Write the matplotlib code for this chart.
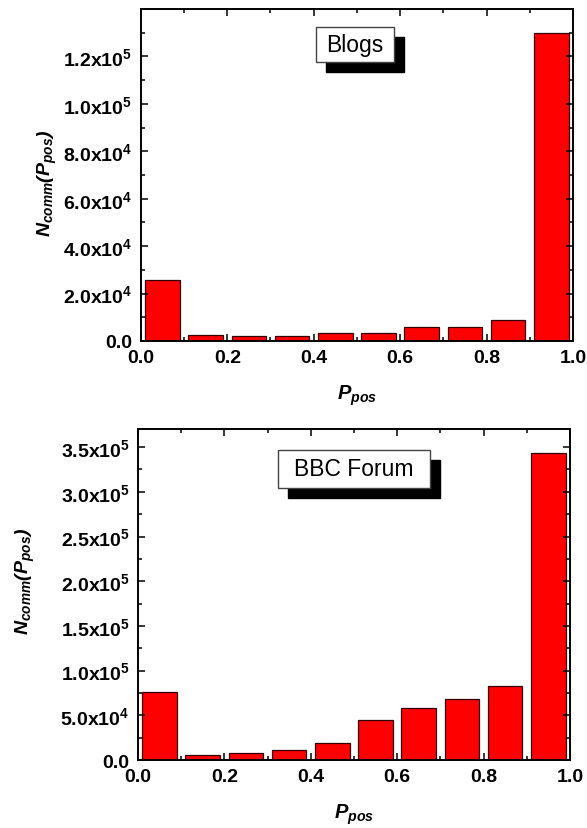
import numpy as np
import matplotlib
matplotlib.use('Agg')
import matplotlib.pyplot as plt
from matplotlib.patches import Rectangle
from matplotlib.ticker import MultipleLocator, FuncFormatter

plt.rcParams['font.family'] = ['Liberation Sans', 'DejaVu Sans']
plt.rcParams['font.weight'] = 'bold'
plt.rcParams['mathtext.fontset'] = 'custom'
plt.rcParams['mathtext.rm'] = 'Liberation Sans'
plt.rcParams['mathtext.bf'] = 'Liberation Sans:bold'
plt.rcParams['mathtext.it'] = 'Liberation Sans:italic'
plt.rcParams['mathtext.bfit'] = 'Liberation Sans:bold:italic'

# bin centres of P_pos
p_pos = [0.05, 0.15, 0.25, 0.35, 0.45, 0.55, 0.65, 0.75, 0.85, 0.95]

# number of comments per bin
n_blogs = [25600, 2500, 2000, 2000, 3500, 3400, 5900, 5900, 9000, 129800]
n_bbc = [76300, 5200, 7400, 10800, 19300, 44300, 57700, 67800, 83000, 343000]

panels = [
    ('Blogs', n_blogs, 1.4e5, 2e4, 1e4),
    ('BBC Forum', n_bbc, 3.7e5, 5e4, 2.5e4),
]


def sci_fmt(v, pos):
    if v <= 0:
        return '0.0'
    e = int(np.floor(np.log10(v) + 1e-9))
    m = v / 10**e
    return r'$\mathbf{%.1fx10^{%d}}$' % (m, e)


fig = plt.figure(figsize=(5.87, 8.29), dpi=100)
ax_pos = [[0.240, 0.5875, 0.736, 0.4005], [0.235, 0.082, 0.736, 0.399]]
box_pos = [[0.405, 0.840, 0.181, 0.106], [0.324, 0.822, 0.353, 0.115]]
text_pos = [(0.495, 0.893), (0.50, 0.88)]
ylab_xy = [(-0.19, 0.479), (-0.233, 0.544)]

for i, (name, vals, ymax, major, minor) in enumerate(panels):
    ax = fig.add_axes(ax_pos[i])
    ax.bar(p_pos, vals, width=0.08, color='#ff0000', edgecolor='#300000', linewidth=0.9)
    ax.set_xlim(0, 1.0)
    ax.set_ylim(0, ymax)
    ax.xaxis.set_major_locator(MultipleLocator(0.2))
    ax.xaxis.set_minor_locator(MultipleLocator(0.1))
    ax.set_yticks(np.arange(0, ymax, major))
    ax.yaxis.set_minor_locator(MultipleLocator(minor))
    ax.xaxis.set_major_formatter(FuncFormatter(lambda v, p: '%.1f' % v))
    ax.yaxis.set_major_formatter(FuncFormatter(sci_fmt))
    ax.tick_params(which='both', direction='in', top=True, right=True, width=1.1)
    ax.tick_params(which='major', length=5, labelsize=14, pad=6)
    ax.tick_params(which='minor', length=3)
    for s in ax.spines.values():
        s.set_linewidth(1.4)
    ax.set_xlabel(r'$\mathbfit{P_{pos}}$', fontsize=14.5)
    ax.xaxis.set_label_coords(0.5, -0.125)
    ax.set_ylabel(r'$\mathbfit{N_{comm}(P_{pos})}$', fontsize=14)
    ax.yaxis.set_label_coords(*ylab_xy[i])

    bx, by, bw, bh = box_pos[i]
    ax.add_patch(Rectangle((bx + 0.023, by - 0.030), bw, bh, transform=ax.transAxes,
                           facecolor='black', edgecolor='black', zorder=5))
    ax.add_patch(Rectangle((bx, by), bw, bh, transform=ax.transAxes,
                           facecolor='white', edgecolor='#444444', linewidth=1.0, zorder=6))
    ax.text(text_pos[i][0], text_pos[i][1], name, transform=ax.transAxes,
            ha='center', va='center', fontsize=16.5, fontweight='normal', zorder=7)

fig.savefig('out.png', dpi=100)
